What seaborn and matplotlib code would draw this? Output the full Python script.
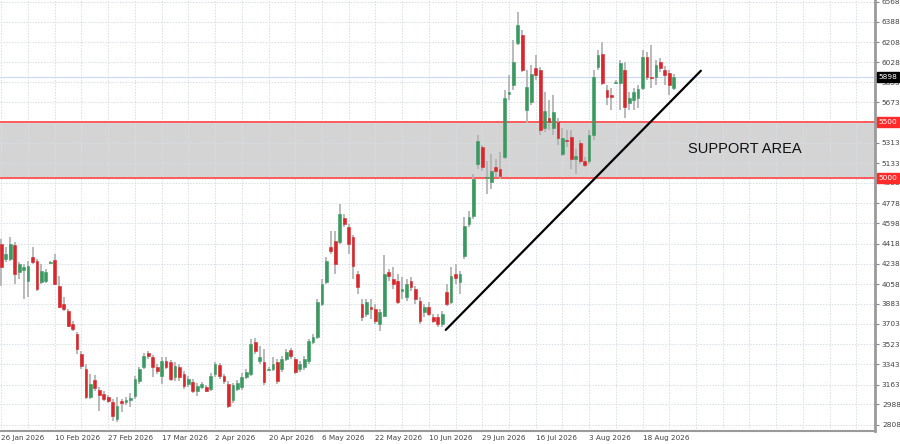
import matplotlib
matplotlib.use("Agg")
import matplotlib.pyplot as plt
import matplotlib.transforms as mtransforms
import seaborn as sns
import numpy as np

# daily OHLC (one entry per candle)
opens = [4412, 4279, 4279, 4403, 4164, 4182, 4084, 4297, 4261, 4075, 4084, 4244, 4270, 4040, 3880, 3818,
         3703, 3615, 3437, 3304, 3056, 3207, 3118, 3083, 3056, 3012, 2862, 3021, 3012, 3030, 3065, 3198,
         3322, 3446, 3411, 3322, 3242, 3375, 3366, 3234, 3322, 3260, 3172, 3189, 3109, 3145, 3145, 3127,
         3260, 3340, 3242, 3172, 3030, 3127, 3145, 3234, 3260, 3544, 3375, 3366, 3296, 3304, 3366, 3304,
         3393, 3473, 3393, 3304, 3322, 3375, 3544, 3588, 3880, 4075, 4385, 4439, 4430, 4642, 4563, 4474,
         4146, 3880, 3792, 3854, 3836, 3703, 3774, 4164, 4102, 4084, 3996, 3942, 4084, 4014, 3907, 3809,
         3854, 3765, 3765, 3703, 3987, 3898, 4146, 4075, 4306, 4589, 4660, 5121, 5280, 4997, 4961, 5094,
         5077, 5183, 5750, 5830, 6202, 6273, 5608, 5679, 5980, 5963, 5449, 5537, 5449, 5502, 5210, 5334,
         5369, 5165, 5316, 5148, 5148, 5387, 5989, 6105, 5786, 5741, 5848, 5848, 5963, 5670, 5697, 5715,
         5803, 6078, 5901, 5901, 6034, 5963, 5936, 5803]
highs = [4456, 4385, 4474, 4430, 4253, 4235, 4261, 4385, 4279, 4235, 4191, 4261, 4323, 4129, 3942, 3836,
         3730, 3632, 3464, 3349, 3260, 3251, 3145, 3109, 3074, 3039, 3056, 3039, 3056, 3092, 3242, 3322,
         3446, 3464, 3428, 3349, 3411, 3411, 3384, 3366, 3349, 3287, 3242, 3216, 3180, 3189, 3163, 3269,
         3366, 3358, 3260, 3198, 3180, 3207, 3269, 3304, 3570, 3579, 3508, 3482, 3322, 3411, 3393, 3420,
         3482, 3490, 3411, 3375, 3420, 3570, 3615, 3925, 4102, 4297, 4527, 4527, 4767, 4678, 4589, 4492,
         4173, 3925, 3925, 3925, 3880, 3836, 4315, 4191, 4208, 4146, 4120, 4102, 4120, 4040, 3942, 3880,
         3898, 3792, 3792, 3818, 4058, 4208, 4235, 4173, 4651, 4704, 5032, 5387, 5298, 5148, 5210, 5165,
         5236, 5786, 5918, 6229, 6477, 6317, 5963, 6007, 6096, 5989, 5768, 5697, 5741, 5537, 5449, 5431,
         5431, 5254, 5342, 5183, 5431, 5963, 6140, 6211, 5830, 5803, 5874, 6051, 6034, 5768, 5803, 5830,
         6140, 6122, 6184, 6051, 6069, 5998, 5963, 5927]
lows = [4040, 4253, 4261, 4058, 4102, 3925, 3942, 4235, 3996, 4058, 4066, 4235, 4049, 3845, 3818, 3677,
        3641, 3437, 3304, 3039, 3039, 3109, 2932, 3021, 3003, 2844, 2835, 2923, 2985, 2968, 3039, 3172,
        3304, 3393, 3234, 3260, 3172, 3304, 3198, 3198, 3198, 3127, 3145, 3092, 3065, 3127, 3101, 3109,
        3234, 3216, 3172, 2959, 3003, 3109, 3118, 3216, 3242, 3437, 3349, 3163, 3287, 3287, 3172, 3278,
        3375, 3393, 3260, 3278, 3296, 3349, 3526, 3570, 3863, 4058, 4323, 4146, 4412, 4563, 4323, 4102,
        3969, 3730, 3765, 3747, 3703, 3641, 3765, 4084, 4014, 3880, 3925, 3907, 3996, 3880, 3703, 3765,
        3774, 3712, 3677, 3677, 3863, 3880, 4058, 3969, 4279, 4563, 4634, 5077, 5059, 4855, 4899, 5006,
        4988, 5165, 5697, 5786, 6184, 5945, 5493, 5653, 5874, 5387, 5413, 5431, 5387, 5298, 5192, 5272,
        5077, 5032, 5121, 5094, 5121, 5342, 5963, 5830, 5653, 5608, 5839, 5608, 5537, 5608, 5608, 5626,
        5786, 5874, 5803, 5830, 5945, 5830, 5741, 5786]
closes = [4208, 4323, 4412, 4146, 4235, 4208, 4217, 4253, 4014, 4173, 4164, 4253, 4058, 3854, 3836, 3685,
          3659, 3482, 3331, 3056, 3172, 3136, 3074, 3039, 3021, 2888, 2977, 3003, 3030, 3047, 3216, 3304,
          3420, 3420, 3322, 3287, 3375, 3322, 3216, 3331, 3234, 3154, 3216, 3109, 3154, 3172, 3109, 3242,
          3349, 3242, 3198, 2977, 3163, 3180, 3234, 3278, 3526, 3464, 3411, 3189, 3304, 3349, 3198, 3393,
          3455, 3420, 3278, 3349, 3393, 3553, 3588, 3898, 4058, 4261, 4350, 4235, 4678, 4589, 4412, 4217,
          4031, 3765, 3898, 3836, 3730, 3809, 4146, 4129, 4058, 3898, 4014, 4058, 4031, 3925, 3730, 3854,
          3792, 3730, 3703, 3792, 3880, 4129, 4111, 4146, 4572, 4651, 4988, 5325, 5094, 5006, 5059, 5059,
          5015, 5715, 5768, 6034, 6361, 5963, 5812, 5927, 5918, 5431, 5599, 5502, 5591, 5360, 5360, 5325,
          5165, 5192, 5148, 5112, 5387, 5901, 6096, 5848, 5724, 5724, 5856, 6025, 5635, 5715, 5768, 5794,
          6078, 5901, 5892, 6007, 5980, 5918, 5830, 5898]

date_labels = ["26 Jan 2026", "10 Feb 2026", "27 Feb 2026", "17 Mar 2026", "2 Apr 2026", "20 Apr 2026",
               "6 May 2026", "22 May 2026", "10 Jun 2026", "29 Jun 2026", "16 Jul 2026", "3 Aug 2026",
               "18 Aug 2026"]
# 5493 sits under the red 5500 box, so it is not labelled
price_ticks = [2808, 2988, 3163, 3343, 3523, 3703, 3883, 4058, 4238, 4418, 4598, 4778, 4958, 5133,
               5313, 5493, 5673, 5853, 6028, 6208, 6388, 6568]
hidden_ticks = [5493]

support_low = 5000
support_high = 5500
trend_x = [99.8, 157.1]
trend_y = [3650, 5954]

sns.set_style("white")
plt.rcParams["font.family"] = ["DejaVu Sans"]

green = "#3a9960"
red = "#d9262b"
wick = "#b4b4b4"
gridc = "#d6deea"

fig = plt.figure(figsize=(9, 4.44), dpi=100)
ax = fig.add_axes([0, 0.029, 0.9722, 0.971])

n = len(closes)
x = np.arange(n)
o = np.array(opens)
c = np.array(closes)
up = c >= o

# support area
ax.axhspan(support_low, support_high, color="#d4d4d4", zorder=0)
ax.axhline(support_high, color="#ff5a5a", lw=1.4, zorder=1)
ax.axhline(support_low, color="#ff5a5a", lw=1.4, zorder=1)
ax.axhline(closes[-1], color="#c9d9f2", lw=0.8, zorder=1)

# candles
ax.vlines(x, lows, highs, color=wick, lw=1.3, zorder=2)
ax.bar(x[up], (c - o)[up], bottom=o[up], width=0.62, color=green, edgecolor=green, lw=0.4, zorder=3)
ax.bar(x[~up], (o - c)[~up], bottom=c[~up], width=0.62, color=red, edgecolor=red, lw=0.4, zorder=3)

# trend line
sns.lineplot(x=trend_x, y=trend_y, color="black", lw=1.6, ax=ax, zorder=4)

ax.text(167, 5254, "SUPPORT AREA", fontsize=10.5, family="Liberation Sans", ha="center", va="center",
        color="#111111", zorder=5)

ax.set_xlim(-0.3, 196.2)
ax.set_ylim(2750, 6583)

ax.set_xticks(np.arange(0, 12 * len(date_labels), 12))
ax.set_xticks(np.arange(6, 197, 6), minor=True)
ax.set_xticklabels(date_labels, ha="left", fontsize=5.2, color="#444444")
off = mtransforms.ScaledTranslation(2 / 72, 0, fig.dpi_scale_trans)
for lab in ax.get_xticklabels():
    lab.set_transform(lab.get_transform() + off)

ax.yaxis.tick_right()
ax.set_yticks(price_ticks)
ax.set_yticklabels(["" if p in hidden_ticks else str(p) for p in price_ticks], fontsize=5.3,
                   color="#444444")
ax.tick_params(axis="x", which="major", length=2, width=0.8, color="#888888", pad=0.8)
ax.tick_params(axis="x", which="minor", length=0)
ax.tick_params(axis="y", length=3, width=0.8, color="#888888", pad=2)

ax.grid(True, which="both", axis="x", color=gridc, ls=(0, (1.5, 1.5)), lw=0.7, zorder=0)
ax.grid(True, which="major", axis="y", color=gridc, ls=(0, (1.5, 1.5)), lw=0.7, zorder=0)
ax.set_axisbelow(True)

for side in ["top", "left"]:
    ax.spines[side].set_visible(False)
ax.spines["right"].set_color("#9a9a9a")
ax.spines["right"].set_linewidth(2)
ax.spines["bottom"].set_color("#9a9a9a")
ax.spines["bottom"].set_linewidth(1.5)

# price boxes on the right axis
for val, bg in [(support_high, "#ff2a2a"), (support_low, "#ff2a2a"), (closes[-1], "black")]:
    ax.text(1.004, val, str(val), transform=ax.get_yaxis_transform(), fontsize=5.3, color="white",
            ha="left", va="center", zorder=6,
            bbox=dict(boxstyle="square,pad=0.25", fc=bg, ec=bg))

fig.savefig("out.png", dpi=100)
